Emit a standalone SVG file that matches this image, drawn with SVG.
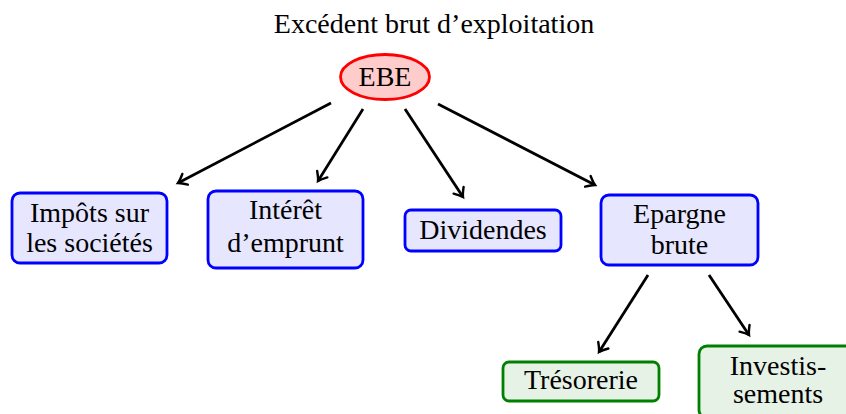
<svg xmlns="http://www.w3.org/2000/svg" width="846" height="414" viewBox="0 0 846 414">
<defs>
<style>
text{font-family:"Liberation Serif","DejaVu Serif",serif;font-size:28px;fill:#000;text-anchor:middle}
.blue{fill:#e6e6ff;stroke:#0000ff;stroke-width:2.8}
.green{fill:#e6f2e6;stroke:#008000;stroke-width:2.8}
.edge{stroke:#000;stroke-width:2.8;fill:none;marker-end:url(#tip)}
</style>
<marker id="tip" markerUnits="userSpaceOnUse" viewBox="-10 -8 12 16" refX="0" refY="0" markerWidth="12" markerHeight="16" orient="auto" overflow="visible">
<path d="M-8,-6 Q-3,-1.5 0,0 Q-3,1.5 -8,6" fill="none" stroke="#000" stroke-width="2.4" stroke-linecap="round"/>
</marker>
</defs>
<rect width="846" height="414" fill="#fff"/>
<text id="title" x="434" y="33">Excédent brut d’exploitation</text>
<g id="connectors">
<line class="edge" x1="331" y1="103" x2="178" y2="183"/>
<line class="edge" x1="363" y1="109" x2="318" y2="181"/>
<line class="edge" x1="405" y1="109" x2="463" y2="197"/>
<line class="edge" x1="438" y1="104" x2="595" y2="185"/>
<line class="edge" x1="648" y1="275" x2="599" y2="352"/>
<line class="edge" x1="709" y1="275" x2="749" y2="335"/>
</g>
<g id="ebe">
<ellipse cx="385" cy="77" rx="44.5" ry="22.5" fill="#ffcccc" stroke="#ff0000" stroke-width="2.8"/>
<text x="385" y="86">EBE</text>
</g>
<g id="impots">
<rect class="blue" x="12" y="193" width="155" height="70" rx="8"/>
<text x="89.5" y="222">Impôts sur</text>
<text x="89.5" y="252">les sociétés</text>
</g>
<g id="interet">
<rect class="blue" x="208" y="191" width="155" height="77" rx="8"/>
<text x="285.5" y="219">Intérêt</text>
<text x="285.5" y="252">d’emprunt</text>
</g>
<g id="dividendes">
<rect class="blue" x="405" y="210" width="156" height="41" rx="6"/>
<text x="483" y="239">Dividendes</text>
</g>
<g id="epargne">
<rect class="blue" x="601" y="195" width="157" height="70" rx="8"/>
<text x="679.5" y="223">Epargne</text>
<text x="679.5" y="254">brute</text>
</g>
<g id="tresorerie">
<rect class="green" x="503" y="362" width="156" height="39" rx="6"/>
<text x="581" y="389">Trésorerie</text>
</g>
<g id="investissements">
<rect class="green" x="699" y="346" width="158" height="72" rx="8"/>
<text x="778" y="375">Investis-</text>
<text x="778" y="403">sements</text>
</g>
</svg>
